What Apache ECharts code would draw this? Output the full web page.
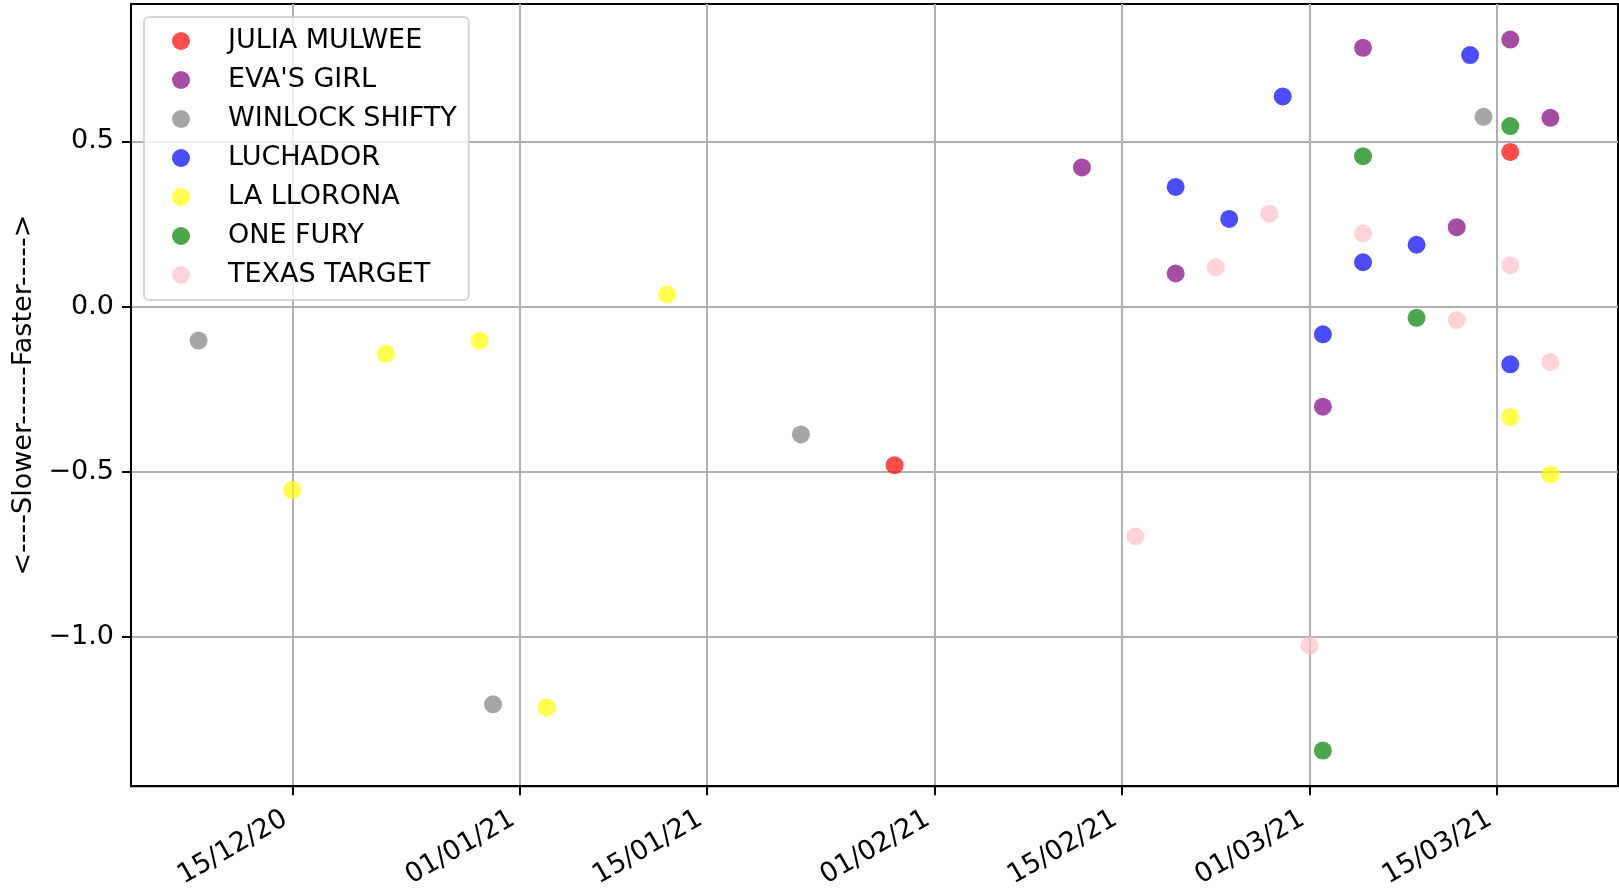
<!DOCTYPE html>
<html>
<head>
<meta charset="utf-8">
<script src="https://cdn.jsdelivr.net/npm/echarts@6/dist/echarts.min.js"></script>
<style>
  html, body { margin: 0; padding: 0; background: #fff; }
  #chart { width: 1619px; height: 891px; }
</style>
</head>
<body>
<div id="chart"></div>
<script>
// one entry per horse, dates as yyyy-mm-dd
const horseNames = ['JULIA MULWEE', "EVA'S GIRL", 'WINLOCK SHIFTY', 'LUCHADOR', 'LA LLORONA', 'ONE FURY', 'TEXAS TARGET'];
const horseColors = ['rgba(255,0,0,0.7)', 'rgba(128,0,128,0.7)', 'rgba(128,128,128,0.7)', 'rgba(0,0,255,0.7)',
  'rgba(255,255,0,0.7)', 'rgba(0,128,0,0.7)', 'rgba(255,192,203,0.7)'];

const juliaDates = ['2021-01-29', '2021-03-16'];
const juliaValues = [-0.480, 0.468];

const evaDates = ['2021-02-12', '2021-02-19', '2021-03-02', '2021-03-05', '2021-03-12', '2021-03-16', '2021-03-19'];
const evaValues = [0.421, 0.100, -0.303, 0.783, 0.240, 0.808, 0.571];

const winlockDates = ['2020-12-08', '2020-12-30', '2021-01-22', '2021-03-14'];
const winlockValues = [-0.103, -1.204, -0.387, 0.574];

const luchadorDates = ['2021-02-19', '2021-02-23', '2021-02-27', '2021-03-02', '2021-03-05', '2021-03-09', '2021-03-13', '2021-03-16'];
const luchadorValues = [0.362, 0.265, 0.636, -0.084, 0.134, 0.187, 0.761, -0.175];

const lloronaDates = ['2020-12-15', '2020-12-22', '2020-12-29', '2021-01-03', '2021-01-12', '2021-03-16', '2021-03-19'];
const lloronaValues = [-0.555, -0.143, -0.103, -1.213, 0.037, -0.334, -0.508];

const furyDates = ['2021-03-02', '2021-03-05', '2021-03-09', '2021-03-16'];
const furyValues = [-1.344, 0.455, -0.034, 0.546];

const texasDates = ['2021-02-16', '2021-02-22', '2021-02-26', '2021-03-01', '2021-03-05', '2021-03-12', '2021-03-16', '2021-03-19'];
const texasValues = [-0.696, 0.119, 0.281, -1.026, 0.221, -0.041, 0.125, -0.168];

const xTickDates = ['2020-12-15', '2021-01-01', '2021-01-15', '2021-02-01', '2021-02-15', '2021-03-01', '2021-03-15'];
const yTicks = [-1.0, -0.5, 0.0, 0.5];

const allDates = [juliaDates, evaDates, winlockDates, luchadorDates, lloronaDates, furyDates, texasDates];
const allValues = [juliaValues, evaValues, winlockValues, luchadorValues, lloronaValues, furyValues, texasValues];

const toTime = s => {
  const [y, m, d] = s.split('-').map(Number);
  return Date.UTC(y, m - 1, d);
};
const pad2 = n => (n < 10 ? '0' : '') + n;
const fmtDate = v => {
  const d = new Date(v);
  return pad2(d.getUTCDate()) + '/' + pad2(d.getUTCMonth() + 1) + '/' + pad2(d.getUTCFullYear() % 100);
};

// matplotlib style 5% margins around the data
const times = allDates.flat().map(toTime);
const vals = allValues.flat();
const tMin = Math.min(...times), tMax = Math.max(...times);
const vMin = Math.min(...vals), vMax = Math.max(...vals);
const xPad = (tMax - tMin) * 0.05, yPad = (vMax - vMin) * 0.05;

const FONT = 'DejaVu Sans';
const FS = 27;

const series = horseNames.map((name, i) => ({
  name,
  type: 'scatter',
  symbol: 'circle',
  symbolSize: 18,
  itemStyle: {color: horseColors[i], opacity: 1},
  emphasis: {disabled: true},
  data: allDates[i].map((d, j) => [toTime(d), allValues[i][j]])
}));

const chart = echarts.init(document.getElementById('chart'), null, {renderer: 'canvas'});
chart.setOption({
  animation: false,
  backgroundColor: '#fff',
  grid: {
    left: 131, right: 1, top: 4, bottom: 104,
    show: true, borderColor: '#000', borderWidth: 2, backgroundColor: 'transparent'
  },
  legend: {
    orient: 'vertical',
    left: 144, top: 17,
    icon: 'circle',
    itemWidth: 18, itemHeight: 18, itemGap: 11,
    padding: [10, 12, 11, 28],
    backgroundColor: 'rgba(255,255,255,0.8)',
    borderColor: 'rgba(204,204,204,0.8)',
    borderWidth: 2,
    borderRadius: 5,
    itemStyle: {opacity: 1},
    textStyle: {fontFamily: FONT, fontSize: FS, color: '#000', lineHeight: 28, padding: [0, 0, 0, 33]},
    data: horseNames
  },
  xAxis: {
    type: 'value',
    min: tMin - xPad,
    max: tMax + xPad,
    axisLine: {show: true, onZero: false, lineStyle: {color: '#000', width: 2}},
    axisTick: {show: true, length: 9, lineStyle: {color: '#000', width: 2}, customValues: xTickDates.map(toTime)},
    axisLabel: {
      customValues: xTickDates.map(toTime),
      rotate: 30, margin: 27,
      padding: [0, 8, 0, 0],
      fontFamily: FONT, fontSize: FS, color: '#000',
      formatter: v => fmtDate(v)
    },
    splitLine: {show: true, lineStyle: {color: '#b0b0b0', width: 2}}
  },
  yAxis: {
    type: 'value',
    min: vMin - yPad,
    max: vMax + yPad,
    name: '<----Slower------Faster----->',
    nameLocation: 'middle',
    nameGap: 92,
    nameTextStyle: {fontFamily: FONT, fontSize: FS, color: '#000'},
    axisLine: {show: true, onZero: false, lineStyle: {color: '#000', width: 2}},
    axisTick: {show: true, length: 9, lineStyle: {color: '#000', width: 2}, customValues: yTicks},
    axisLabel: {
      customValues: yTicks,
      margin: 17,
      fontFamily: FONT, fontSize: FS, color: '#000',
      formatter: v => (v < 0 ? '\u2212' : '') + Math.abs(v).toFixed(1)
    },
    splitLine: {show: true, lineStyle: {color: '#b0b0b0', width: 2}}
  },
  series
});
</script>
</body>
</html>
